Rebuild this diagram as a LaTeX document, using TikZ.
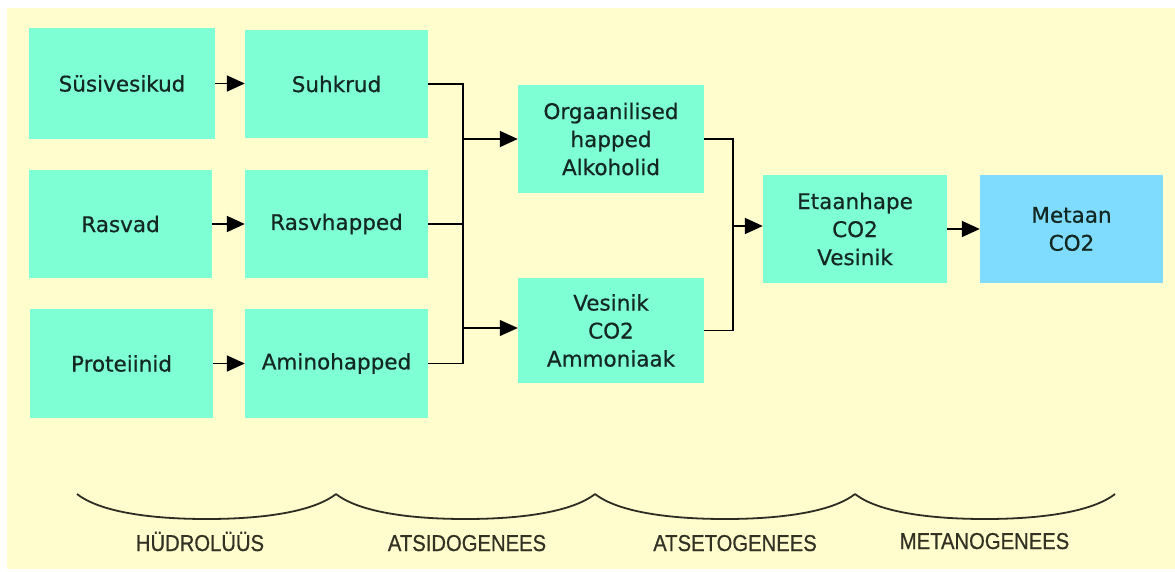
\documentclass[tikz,border=0pt]{standalone}
\usepackage{fontspec}
\setmainfont{DejaVu Sans}[FakeBold=0.6]
\newfontfamily\boxfont{DejaVu Sans}[FakeBold=0.6]
\newfontfamily\labfont{Liberation Sans}[FakeBold=0.6,FakeStretch=0.88]
\usetikzlibrary{arrows.meta,calc}
\definecolor{bgc}{RGB}{255,252,206}
\definecolor{aqua}{RGB}{127,255,212}
\definecolor{skyb}{RGB}{128,220,255}
\definecolor{txt}{RGB}{20,40,35}
\definecolor{labc}{RGB}{50,50,36}
\definecolor{bracec}{RGB}{45,45,35}
\tikzset{
  stagebox/.style={rectangle, fill=aqua, inner sep=0pt, align=center,
    font=\boxfont\fontsize{21.5}{28}\selectfont, text=txt},
  conn/.style={line width=1.5pt, draw=black},
  arr/.style={-{Triangle[length=18pt,width=16pt]}, line width=1.8pt, draw=black},
  thinarr/.style={-{Triangle[length=18pt,width=16pt]}, line width=1.2pt, draw=black},
  bracestyle/.style={line width=1.8pt, draw=bracec},
  phase/.style={font=\labfont\fontsize{23}{26}\selectfont, text=labc, anchor=base, inner sep=0pt}
}
\begin{document}
\begin{tikzpicture}[x=1pt,y=-1pt]
\useasboundingbox (0,0) rectangle (1175,571);
\fill[white] (0,0) rectangle (1175,571);
\fill[bgc] (7,8) rectangle (1175,569);

% column 1
\node[stagebox, minimum width=186pt, minimum height=111pt] (sus) at (122,83.5) {Süsivesikud};
\node[stagebox, minimum width=183pt, minimum height=108pt] (ras) at (120.5,224) {Rasvad};
\node[stagebox, minimum width=183pt, minimum height=109pt] (pro) at (121.5,363.5) {Proteiinid};
% column 2
\node[stagebox, minimum width=183pt, minimum height=108pt] (suh) at (336.5,84) {Suhkrud};
\node[stagebox, minimum width=183pt, minimum height=108pt] (rash) at (336.5,224) {Rasvhapped};
\node[stagebox, minimum width=183pt, minimum height=109pt] (ami) at (336.5,363.5) {Aminohapped};
% column 3
\node[stagebox, minimum width=186pt, minimum height=108pt] (org) at (611,139) {Orgaanilised\\happed\\Alkoholid};
\node[stagebox, minimum width=186pt, minimum height=105pt] (ves) at (611,330.5) {Vesinik\\CO2\\Ammoniaak};
% column 4
\node[stagebox, minimum width=184pt, minimum height=108pt] (eta) at (855,229) {Etaanhape\\CO2\\Vesinik};
\node[stagebox, fill=skyb, minimum width=183pt, minimum height=108pt] (met) at (1071.5,229) {Metaan\\CO2};

% short arrows
\draw[arr] (sus.east) -- (suh.west |- sus.east);
\draw[arr] (ras) -- (rash);
\draw[arr] (pro) -- (ami);

% junction 1
\coordinate (jx) at (463,0);
\draw[conn] (suh.east) -- (suh.east -| jx) -- (ami.east -| jx) -- (ami.east);
\draw[conn] (rash.east) -- (rash.east -| jx);
\draw[arr] (org.west -| jx) -- (org.west);
\coordinate (vy) at (0,328);
\draw[thinarr] (vy -| jx) -- (vy -| ves.west);

% junction 2
\coordinate (kx) at (733,0);
\draw[conn] (org.east) -- (org.east -| kx) -- (ves.east -| kx) -- (ves.east);
\coordinate (ey) at (0,226);
\draw[arr] (ey -| kx) -- (ey -| eta.west);
\draw[arr] (eta) -- (met);

% braces
\foreach \a/\b in {77/336, 336/595, 595/855, 855/1115}{
  \pgfmathsetmacro{\m}{(\a+\b)/2}
  \draw[bracestyle] (\a,494) .. controls (\a+23,512) and (\m-56,519) .. (\m,519)
     .. controls (\m+56,519) and (\b-23,512) .. (\b,494);
}

% phase labels
\node[phase] (p1) at (200,551) {HÜDROLÜÜS};
\node[phase] (p2) at (467,551) {ATSIDOGENEES};
\node[phase] (p3) at (735,551) {ATSETOGENEES};
\node[phase] (p4) at (984.5,549) {METANOGENEES};
\end{tikzpicture}
\end{document}
